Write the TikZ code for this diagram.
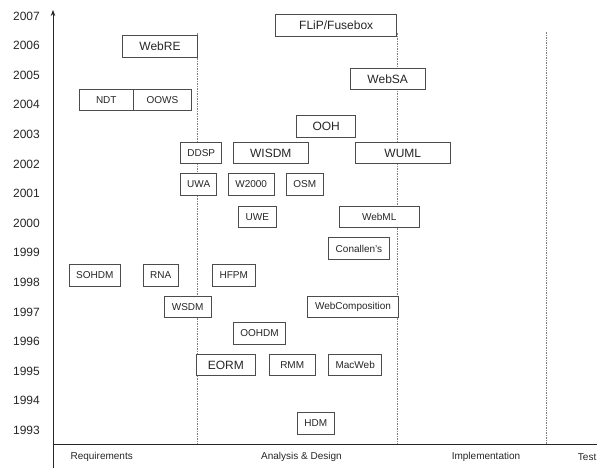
\documentclass[tikz,border=0pt]{standalone}
\usepackage{fontspec}
\setmainfont{Liberation Sans}
\usetikzlibrary{arrows.meta}
\begin{document}
\begin{tikzpicture}[x=1pt,y=-1pt,
  box/.style={draw=black!70,line width=0.9pt,fill=white,inner xsep=0pt,inner ysep=0pt,minimum height=21.5pt,text=black!85},
  big/.style={box,font=\fontsize{12}{14}\selectfont},
  small/.style={box,font=\fontsize{10}{12}\selectfont},
  year/.style={anchor=east,inner sep=0pt,font=\fontsize{12}{14}\selectfont,text=black!85},
  phase/.style={inner sep=0pt,font=\fontsize{10}{12}\selectfont,text=black!85},
  axis/.style={line width=0.9pt,black!85},
  sep/.style={gray,line width=0.7pt,dash pattern=on 2pt off 1.2pt on 0.6pt off 1.2pt}]
\useasboundingbox (0,0) rectangle (597,468);
% axes
\coordinate (ybot) at (53,468);
\coordinate (ytop) at (53,10);
\coordinate (xleft) at (53,444);
\coordinate (xright) at (597,444);
\draw[axis,-{Stealth[length=6pt,width=4.5pt]}] (ybot) -- (ytop);
\draw[axis] (xleft) -- (xright);
% phase separators
\coordinate (s1t) at (197,33); \coordinate (s1b) at (197,444);
\coordinate (s2t) at (397.5,33); \coordinate (s2b) at (397.5,444);
\coordinate (s3t) at (546,32); \coordinate (s3b) at (546,444);
\draw[sep] (s1t) -- (s1b);
\draw[sep] (s2t) -- (s2b);
\draw[sep] (s3t) -- (s3b);
% year labels
\foreach \yr [count=\i from 0] in {2007,2006,...,1993}
  \node[year] (y\yr) at (40,{16+\i*29.6}) {\yr};
% phase labels
\node[phase] (req) at (101.7,456.7) {Requirements};
\node[phase] (ad) at (301.5,456.7) {Analysis \& Design};
\node[phase] (impl) at (486,456.7) {Implementation};
\node[phase,anchor=east] (test) at (596.5,456.7) {Test};
% boxes
\node[big,minimum width=121pt] (flip) at (336.2,25.5) {FLiP/Fusebox};
\node[big,minimum width=75.4pt] (webre) at (160,46.7) {WebRE};
\node[big,minimum width=75.3pt] (websa) at (387.7,79.2) {WebSA};
\node[small,minimum width=54pt] (ndt) at (106.3,100) {NDT};
\node[small,minimum width=58.4pt] (oows) at (162.5,100) {OOWS};
\node[big,minimum width=59pt] (ooh) at (326.2,126.5) {OOH};
\node[small,minimum width=41pt] (ddsp) at (201.2,153) {DDSP};
\node[big,minimum width=75pt] (wisdm) at (270.8,153) {WISDM};
\node[big,minimum width=94.3pt] (wuml) at (402.8,153) {WUML};
\node[small,minimum width=36pt] (uwa) at (198.7,184.5) {UWA};
\node[small,minimum width=45.7pt] (w2000) at (251.2,184.5) {W2000};
\node[small,minimum width=37.3pt] (osm) at (304.7,184.5) {OSM};
\node[small,minimum width=37.3pt] (uwe) at (257.3,216.7) {UWE};
\node[small,minimum width=80.3pt] (webml) at (379.2,216.7) {WebML};
\node[small,minimum width=60.6pt] (conallen) at (359,248.5) {Conallen's};
\node[small,minimum width=51.7pt] (sohdm) at (94.8,275.2) {SOHDM};
\node[small,minimum width=35pt] (rna) at (160.8,275.2) {RNA};
\node[small,minimum width=42.7pt] (hfpm) at (233.7,275.2) {HFPM};
\node[small,minimum width=46.7pt] (wsdm) at (187.7,306.7) {WSDM};
\node[small,minimum width=91.4pt] (webcomp) at (353,307) {WebComposition};
\node[small,minimum width=52.4pt] (oohdm) at (259.5,333.5) {OOHDM};
\node[big,minimum width=58.3pt] (eorm) at (225.8,365) {EORM};
\node[small,minimum width=45.7pt] (rmm) at (292.2,365) {RMM};
\node[small,minimum width=53pt] (macweb) at (355.2,365) {MacWeb};
\node[small,minimum width=37pt] (hdm) at (315.8,423.3) {HDM};
\end{tikzpicture}
\end{document}
